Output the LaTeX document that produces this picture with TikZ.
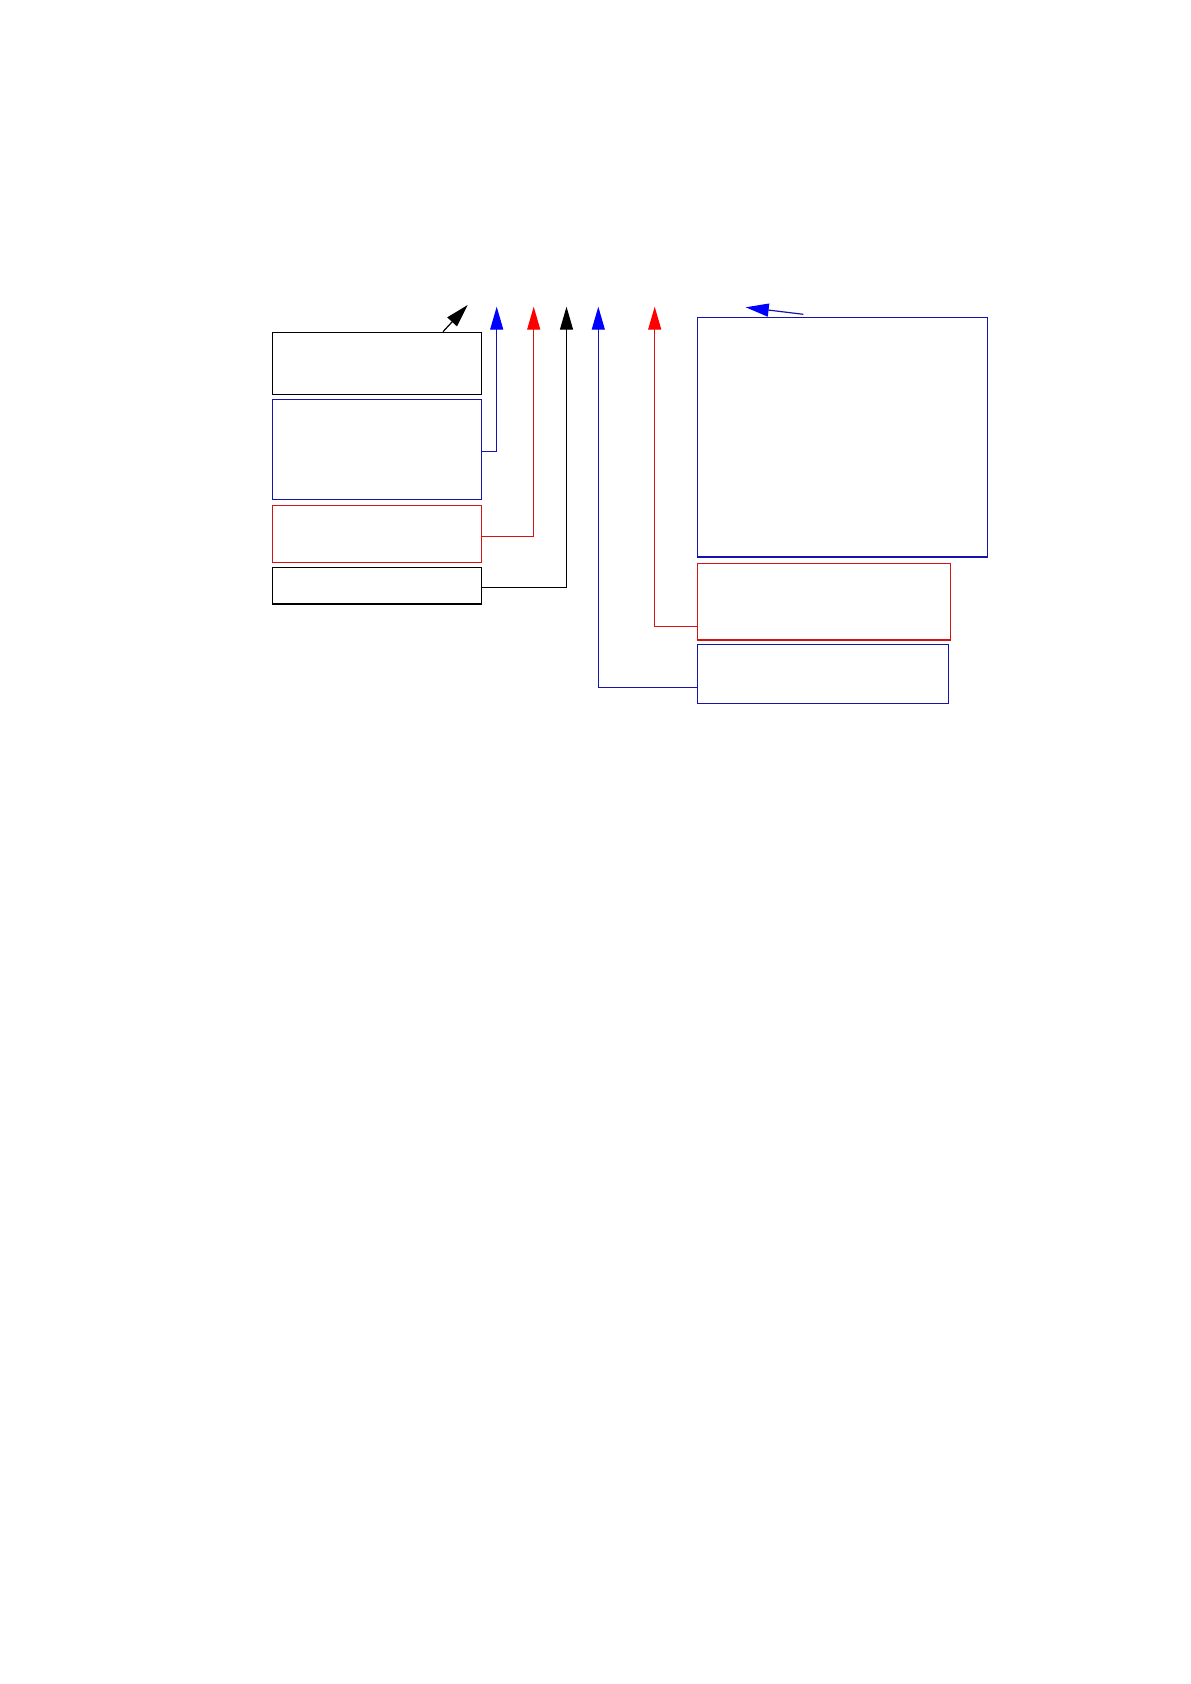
\documentclass[tikz,border=0pt]{standalone}
\usetikzlibrary{arrows.meta}
\definecolor{boxblue}{RGB}{20,20,170}
\definecolor{boxred}{RGB}{210,20,20}
\begin{document}
\begin{tikzpicture}[x=0.5pt,y=-0.5pt,
  box/.style={draw,line width=0.6pt,inner sep=0pt,minimum width=#1},
  conn/.style={line width=0.6pt,-{Triangle[length=11.5pt,width=6.5pt]}},
  tipblue/.style={conn,draw=boxblue,-{Triangle[length=11.5pt,width=6.5pt,color=blue,fill=blue]}},
  tipred/.style={conn,draw=boxred,-{Triangle[length=11.5pt,width=6.5pt,color=red,fill=red]}},
  tipblack/.style={conn,draw=black}]
\useasboundingbox (0,0) rectangle (1190,1684);
% left column
\node[box=104.7pt,minimum height=31pt,draw=black] (b1) at (377,363.3) {};
\node[box=104.7pt,minimum height=50pt,draw=boxblue] (b2) at (377,449.3) {};
\node[box=104.7pt,minimum height=28.5pt,draw=boxred] (b3) at (377,533.8) {};
\node[box=104.7pt,minimum height=18.35pt,draw=black] (b4) at (377,585.7) {};
% right column
\node[box=145pt,minimum height=119.85pt,draw=boxblue] (b5) at (842.3,437.2) {};
\node[box=126.5pt,minimum height=38.35pt,draw=boxred] (b6) at (823.8,601.7) {};
\node[box=125.5pt,minimum height=29.5pt,draw=boxblue] (b7) at (822.8,673.8) {};
% arrow tips
\coordinate (tD) at (467.7,305);
\coordinate (tB1) at (496.7,306.7);
\coordinate (tR1) at (533.7,306.7);
\coordinate (tK) at (566.5,306.7);
\coordinate (tB2) at (598.3,306.7);
\coordinate (tR2) at (654.7,306.7);
\coordinate (tT) at (745.7,307.3);
\coordinate (sT) at (803.3,314.3);
% connectors
\draw[tipblack] ([xshift=33pt]b1.north) -- (tD);
\draw[tipblue] ([yshift=-1.2pt]b2.east) -| (tB1);
\draw[tipred] ([yshift=-1.45pt]b3.east) -| (tR1);
\draw[tipblack] ([yshift=-0.8pt]b4.east) -| (tK);
\draw[tipblue] ([yshift=-6.75pt]b7.west) -| (tB2);
\draw[tipred] ([yshift=-12.3pt]b6.west) -| (tR2);
\draw[tipblue] (sT) -- (tT);
\end{tikzpicture}
\end{document}
